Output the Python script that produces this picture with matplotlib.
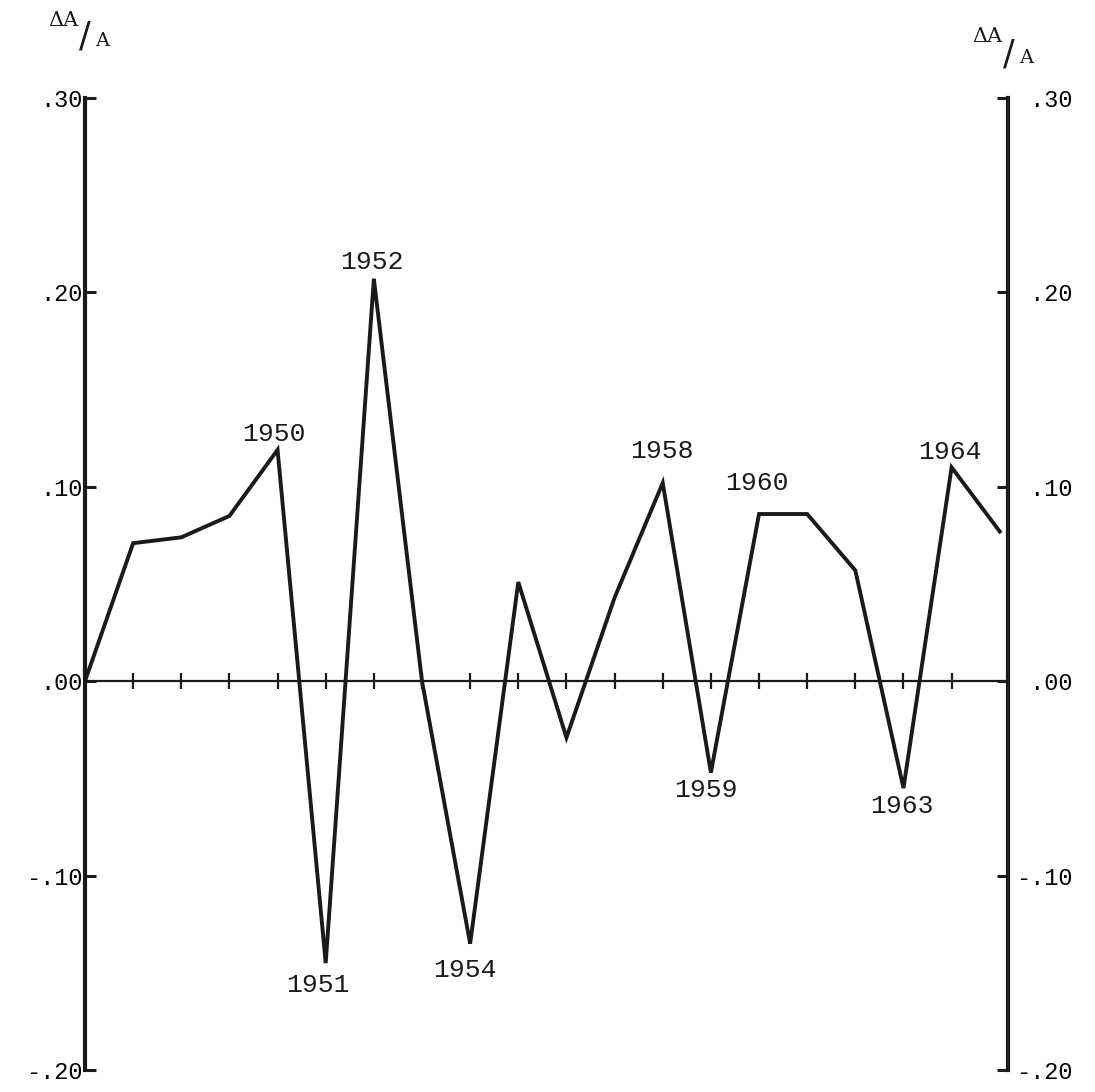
import matplotlib
matplotlib.use("Agg")
import matplotlib.pyplot as plt

# annual relative change dA/A
years = list(range(1946, 1966))
values = [0.000, 0.071, 0.074, 0.085, 0.119, -0.145, 0.207, 0.000, -0.135, 0.051,
          -0.029, 0.043, 0.102, -0.047, 0.086, 0.086, 0.057, -0.055, 0.110, 0.077]

# labelled years and label offsets (pixels) from their points
label_years = [1950, 1951, 1952, 1954, 1958, 1959, 1960, 1963, 1964]
label_dx = [-4, -8, -2, -5, -1, -5, -2, -2, -2]
label_dy = [16, -22, 17, -26, 32, -17, 31, -18, 15]

yticks = [0.30, 0.20, 0.10, 0.00, -0.10, -0.20]
ytick_labels = [".30", ".20", ".10", ".00", "-.10", "-.20"]

font = "Liberation Mono"
ink = "#1a1a1a"
W, H = 1095, 1092

fig = plt.figure(figsize=(W / 100, H / 100), dpi=100)
ax = fig.add_axes([0.0776, 0.0201, 0.8429, 0.8902])
ax.set_xlim(1946, 1965.17)
ax.set_ylim(-0.20, 0.30)

ax.plot(years, values, color=ink, lw=2.8, solid_joinstyle="miter", zorder=3)

# spines: thick left axis, thin zero line as x axis
for s in ["top", "right"]:
    ax.spines[s].set_visible(False)
ax.spines["left"].set_linewidth(3)
ax.spines["left"].set_color(ink)
ax.spines["bottom"].set_position(("data", 0))
ax.spines["bottom"].set_linewidth(1.6)
ax.spines["bottom"].set_color(ink)

ax.set_xticks(years[1:-1])
ax.set_xticklabels([])
ax.tick_params(axis="x", direction="inout", length=12, width=1.6, color=ink)

ax.set_yticks(yticks)
ax.set_yticklabels(ytick_labels, fontfamily=font, fontsize=17)
ax.tick_params(axis="y", direction="in", length=8, width=2.2, pad=2, color=ink)

# right-hand axis with the same scale
ax2 = ax.twinx()
ax2.set_ylim(-0.20, 0.30)
for s in ["top", "left", "bottom"]:
    ax2.spines[s].set_visible(False)
ax2.spines["right"].set_linewidth(3)
ax2.spines["right"].set_color(ink)
ax2.set_yticks(yticks)
ax2.set_yticklabels([(" " + t if not t.startswith("-") else t) for t in ytick_labels],
                    fontfamily=font, fontsize=17)
ax2.tick_params(axis="y", direction="in", length=8, width=2.2, pad=6, color=ink)

# year annotations at the turning points
for yr, dx, dy in zip(label_years, label_dx, label_dy):
    v = values[years.index(yr)]
    ax.annotate(str(yr), xy=(yr, v), xytext=(dx, dy), textcoords="offset pixels",
                ha="center", va="center", fontfamily=font, fontsize=19, color=ink)


# dA/A axis titles (slashed fraction), positions in pixels
def frac_label(x0, y0):
    fig.text(x0 / W, 1 - y0 / H, "ΔA", fontfamily="DejaVu Serif", fontsize=15,
             color=ink, ha="center", va="center")
    fig.text((x0 + 22) / W, 1 - (y0 + 17) / H, "/", fontfamily="DejaVu Sans",
             fontsize=25, color=ink, ha="center", va="center")
    fig.text((x0 + 39) / W, 1 - (y0 + 21) / H, "A", fontfamily="DejaVu Serif",
             fontsize=14, color=ink, ha="center", va="center")


frac_label(63, 20)
frac_label(987, 37)

fig.savefig("out.png", dpi=100, facecolor="white")
